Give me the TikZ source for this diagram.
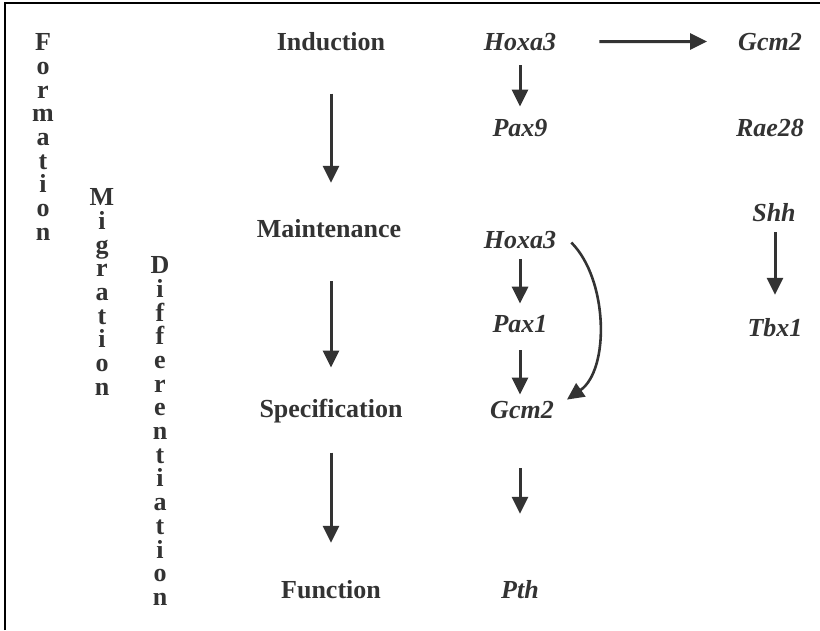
\documentclass[tikz,border=0pt]{standalone}
\usepackage{fontspec}
\setmainfont{Liberation Serif}
\usetikzlibrary{arrows.meta}

\definecolor{inkgray}{HTML}{333333}

\tikzset{
  stage/.style      = {anchor=base, inner sep=2pt, text=inkgray,
                       font=\fontsize{26}{28}\selectfont\bfseries},
  gene/.style       = {stage, font=\fontsize{26}{28}\selectfont\bfseries\itshape},
  vword/.style      = {align=center, inner sep=0pt, text=inkgray,
                       font=\fontsize{26}{23.7}\selectfont\bfseries},
  stagearrow/.style = {draw=inkgray, line width=3pt,
                       -{Triangle[width=16pt,length=17pt]}},
  genearrow/.style  = {stagearrow},
  bendarrow/.style  = {stagearrow, line width=2.6pt}
}

\begin{document}
\begin{tikzpicture}[x=1pt, y=-1pt]
\useasboundingbox (0,0) rectangle (820,630);
\draw[line width=2pt] (5,630) -- (5,3) -- (820,3);

% vertical words
\node[vword] (form) at (43,137) {F\\o\\r\\m\\a\\t\\i\\o\\n};
\node[vword] (migr) at (102,292) {M\\i\\g\\r\\a\\t\\i\\o\\n};
\node[vword] (diff) at (160,431) {D\\i\\f\\f\\e\\r\\e\\n\\t\\i\\a\\t\\i\\o\\n};

% stages
\node[stage] (ind)  at (331,50)  {Induction};
\node[stage] (main) at (329,237) {Maintenance};
\node[stage] (spec) at (331,417) {Specification};
\node[stage] (func) at (331,598) {Function};

% genes
\node[gene] (hoxa) at (520,50)  {Hoxa3};
\node[gene] (pax9) at (520,136) {Pax9};
\node[gene] (gcma) at (770,50)  {Gcm2};
\node[gene] (rae)  at (770,136) {Rae28};
\node[gene] (shh)  at (774,221) {Shh};
\node[gene] (tbx)  at (775,336) {Tbx1};
\node[gene] (hoxb) at (520,248) {Hoxa3};
\node[gene] (pax1) at (520,332) {Pax1};
\node[gene] (gcmb) at (522,418) {Gcm2};
\node[gene] (pth)  at (520,598) {Pth};

% arrows
\draw[stagearrow, shorten <=41pt, shorten >=34pt] (ind.south) -- (ind.south |- main.north);
\draw[stagearrow, shorten <=42pt, shorten >=29pt] (ind.south |- main.south) -- (ind.south |- spec.north);
\draw[stagearrow, shorten <=28pt, shorten >=35pt] (spec.south) -- (func.north);

\draw[genearrow, shorten <=13pt, shorten >=10pt] (hoxa) -- (pax9);
\draw[genearrow, shorten <=41pt, shorten >=29pt] (hoxa) -- (gcma);
\draw[genearrow, shorten <=9pt, shorten >=21pt] (shh.south -| tbx) -- (tbx);
\draw[genearrow, shorten <=9pt, shorten >=9pt] (hoxb) -- (pax1);
\draw[genearrow, shorten <=16pt, shorten >=4pt] (pax1) -- (pax1 |- gcmb.north);
\draw[genearrow, shorten <=48pt, shorten >=64pt] (gcmb.south -| pth) -- (pth);

\draw[bendarrow] ([xshift=13pt, yshift=-3pt]hoxb.east)
  to[out=-45, in=35, looseness=0.85] ([xshift=11pt, yshift=-1pt]gcmb.north east);
\end{tikzpicture}
\end{document}
